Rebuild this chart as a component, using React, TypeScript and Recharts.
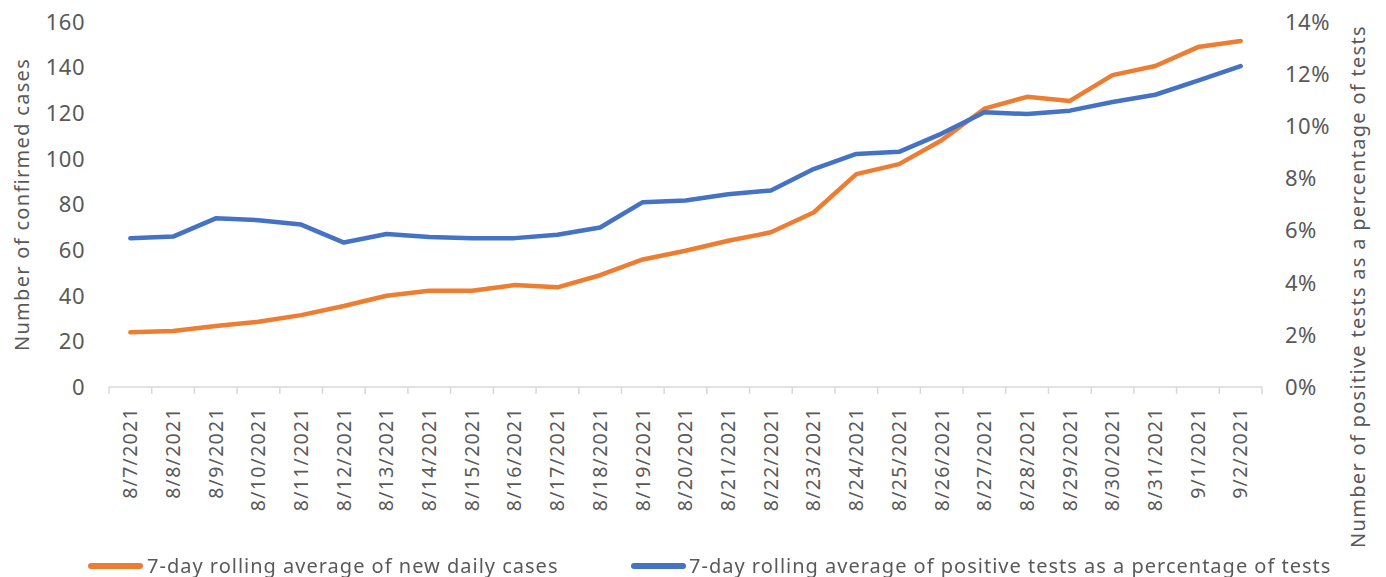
import React from "react";
import {
  LineChart,
  Line,
  XAxis,
  YAxis,
  Legend,
  Label,
} from "recharts";

const dates = [
  "8/7/2021", "8/8/2021", "8/9/2021", "8/10/2021", "8/11/2021", "8/12/2021",
  "8/13/2021", "8/14/2021", "8/15/2021", "8/16/2021", "8/17/2021", "8/18/2021",
  "8/19/2021", "8/20/2021", "8/21/2021", "8/22/2021", "8/23/2021", "8/24/2021",
  "8/25/2021", "8/26/2021", "8/27/2021", "8/28/2021", "8/29/2021", "8/30/2021",
  "8/31/2021", "9/1/2021", "9/2/2021",
];

// 7-day rolling average of new daily cases (left axis)
const newCases = [
  24, 24.5, 26.7, 28.6, 31.5, 35.5, 40, 42.2, 42.2, 44.7, 43.7, 49, 55.9, 59.7,
  64.1, 67.8, 76.5, 93.3, 97.7, 108.2, 122, 127.2, 125.4, 136.7, 140.7, 149, 151.7,
];

// 7-day rolling average of positivity, in percent (right axis)
const positivity = [
  5.71, 5.77, 6.47, 6.4, 6.23, 5.54, 5.87, 5.75, 5.71, 5.71, 5.84, 6.12, 7.09,
  7.15, 7.39, 7.54, 8.36, 8.94, 9.02, 9.72, 10.54, 10.47, 10.6, 10.93, 11.21,
  11.75, 12.31,
];

const casesTicks = [0, 20, 40, 60, 80, 100, 120, 140, 160];
const pctTicks = [0, 2, 4, 6, 8, 10, 12, 14];

const casesName = "7-day rolling average of new daily cases";
const pctName = "7-day rolling average of positive tests as a percentage of tests";

const ORANGE = "#ED7D31";
const BLUE = "#4472C4";
const TEXT = "#595959";
const AXIS = "#D9D9D9";

const CHART_W = 1386;
const CHART_H = 577;
const LEFT_W = 109;
const RIGHT_W = 124;
const HALF_BAND = (CHART_W - LEFT_W - RIGHT_W) / dates.length / 2;

const data = dates.map((d, i) => ({
  date: d,
  cases: newCases[i],
  pct: positivity[i],
}));

// tick marks sit between categories, labels read bottom to top
const DateTick = (props: any) => {
  const { x, y, payload, index } = props;
  return (
    <g>
      <line x1={x - HALF_BAND} x2={x - HALF_BAND} y1={y} y2={y + 7} stroke={AXIS} strokeWidth={1.5} />
      {index === dates.length - 1 && (
        <line x1={x + HALF_BAND} x2={x + HALF_BAND} y1={y} y2={y + 7} stroke={AXIS} strokeWidth={1.5} />
      )}
      <text
        x={x}
        y={y + 20}
        transform={`rotate(-90, ${x}, ${y + 20})`}
        textAnchor="end"
        dy="0.35em"
        fill={TEXT}
        fontSize={19.5}
        letterSpacing={1.3}
      >
        {payload.value}
      </text>
    </g>
  );
};

const axisTitle = (text: string, dx: number, dy: number) => (props: any) => {
  const vb = props.viewBox;
  const cx = vb.x + dx;
  const cy = vb.y + vb.height / 2 + dy;
  return (
    <text
      x={cx}
      y={cy}
      transform={`rotate(-90, ${cx}, ${cy})`}
      textAnchor="middle"
      dy="0.35em"
      fill={TEXT}
      fontSize={20}
      letterSpacing={1.3}
    >
      {text}
    </text>
  );
};

const LegendIcon = ({ color }: { color: string }) => (
  <svg width={55} height={8} style={{ display: "block" }}>
    <line x1={3} x2={52} y1={4} y2={4} stroke={color} strokeWidth={6} strokeLinecap="round" />
  </svg>
);

const renderLegend = () => (
  <div
    style={{
      display: "flex",
      alignItems: "center",
      height: 22,
      paddingLeft: 88,
      color: TEXT,
      fontSize: 20,
      lineHeight: "22px",
      letterSpacing: 1,
      whiteSpace: "nowrap",
    }}
  >
    <div style={{ display: "flex", alignItems: "center", width: 543 }}>
      <LegendIcon color={ORANGE} />
      <span style={{ marginLeft: 4 }}>{casesName}</span>
    </div>
    <div style={{ display: "flex", alignItems: "center" }}>
      <LegendIcon color={BLUE} />
      <span style={{ marginLeft: 3 }}>{pctName}</span>
    </div>
  </div>
);

const App: React.FC = () => {
  return (
    <div
      style={{
        position: "fixed",
        left: 0,
        top: 0,
        width: CHART_W,
        height: CHART_H,
        background: "#ffffff",
        fontFamily: "'Noto Sans', sans-serif",
      }}
    >
      <LineChart
        width={CHART_W}
        height={CHART_H}
        data={data}
        margin={{ top: 22, right: 0, bottom: 0, left: 0 }}
      >
        <XAxis
          dataKey="date"
          xAxisId="x"
          interval={0}
          height={168}
          tickSize={0}
          tickMargin={0}
          tickLine={false}
          axisLine={{ stroke: AXIS, strokeWidth: 1.5 }}
          padding={{ left: HALF_BAND, right: HALF_BAND }}
          tick={<DateTick />}
        />
        <YAxis
          yAxisId="cases"
          orientation="left"
          width={LEFT_W}
          domain={[0, 160]}
          ticks={casesTicks}
          interval={0}
          axisLine={false}
          tickLine={false}
          tickSize={0}
          tickMargin={24}
          tick={{ fill: TEXT, fontSize: 22, letterSpacing: 0.5 }}
        >
          <Label content={axisTitle("Number of confirmed cases", 22, 0)} />
        </YAxis>
        <YAxis
          yAxisId="pct"
          orientation="right"
          width={RIGHT_W}
          domain={[0, 14]}
          ticks={pctTicks}
          interval={0}
          axisLine={false}
          tickLine={false}
          tickSize={0}
          tickMargin={23}
          tick={{ fill: TEXT, fontSize: 22, letterSpacing: 0.5 }}
          tickFormatter={(v) => `${v}%`}
        >
          <Label content={axisTitle("Number of positive tests as a percentage of tests", 96, 82)} />
        </YAxis>
        <Legend verticalAlign="bottom" height={22} content={renderLegend} />
        <Line
          xAxisId="x"
          yAxisId="cases"
          type="linear"
          dataKey="cases"
          name={casesName}
          stroke={ORANGE}
          strokeWidth={4.5}
          strokeLinecap="round"
          strokeLinejoin="round"
          dot={false}
          isAnimationActive={false}
        />
        <Line
          xAxisId="x"
          yAxisId="pct"
          type="linear"
          dataKey="pct"
          name={pctName}
          stroke={BLUE}
          strokeWidth={4.5}
          strokeLinecap="round"
          strokeLinejoin="round"
          dot={false}
          isAnimationActive={false}
        />
      </LineChart>
    </div>
  );
};

export default App;
